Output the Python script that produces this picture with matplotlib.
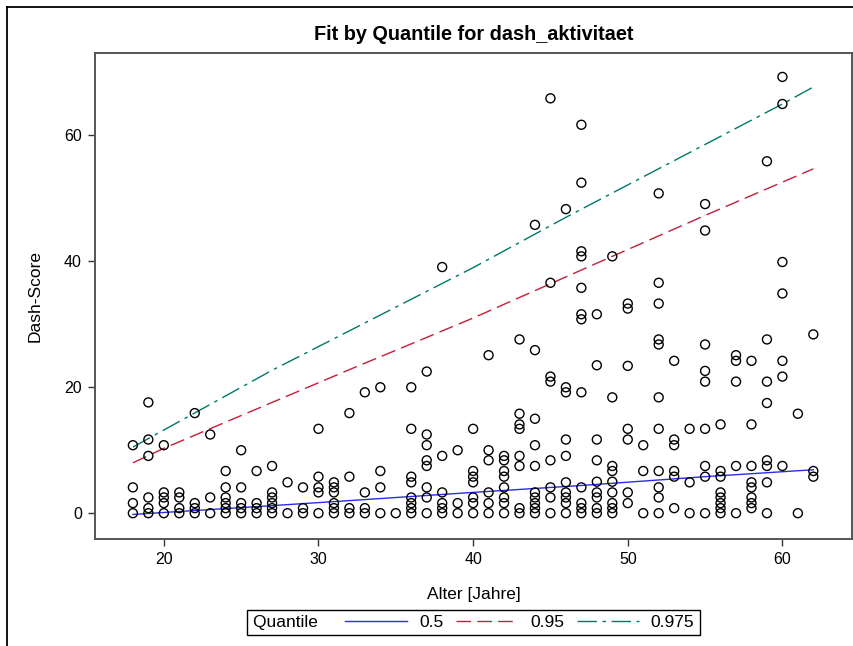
import numpy as np
import matplotlib.pyplot as plt
from matplotlib.lines import Line2D

plt.rcParams['font.family'] = ['Liberation Sans', 'DejaVu Sans']

# Daten
alter = ([18]*4 + [19]*6 + [20]*5 + [21]*4 + [22]*4 + [23]*3 + [24]*6 + [25]*5 + [26]*4 + [27]*6
         + [28]*2 + [29]*3 + [30]*5 + [31]*6 + [32]*4 + [33]*4 + [34]*4 + [35]*1 + [36]*8 + [37]*8
         + [38]*6 + [39]*3 + [40]*7 + [41]*6 + [42]*8 + [43]*8 + [44]*10 + [45]*8 + [46]*10 + [47]*12
         + [48]*9 + [49]*9 + [50]*7 + [51]*3 + [52]*11 + [53]*6 + [54]*3 + [55]*9 + [56]*8 + [57]*5
         + [58]*8 + [59]*8 + [60]*7 + [61]*2 + [62]*3)
dash_score = [
    10.8, 4.1, 1.6, 0,                      # 18
    17.6, 11.7, 9.1, 2.5, 0.8, 0,           # 19
    10.8, 3.3, 2.5, 1.6, 0,                 # 20
    3.3, 2.5, 0.8, 0,                       # 21
    15.9, 1.6, 0.8, 0,                      # 22
    12.5, 2.5, 0,                           # 23
    6.7, 4.1, 2.5, 1.6, 0.8, 0,             # 24
    10.0, 4.1, 1.6, 0.8, 0,                 # 25
    6.7, 1.6, 0.8, 0,                       # 26
    7.5, 3.3, 2.5, 1.6, 0.8, 0,             # 27
    4.9, 0,                                 # 28
    4.1, 0.8, 0,                            # 29
    13.4, 5.8, 4.1, 3.3, 0,                 # 30
    4.9, 4.1, 3.3, 1.6, 0.8, 0,             # 31
    15.9, 5.8, 0.8, 0,                      # 32
    19.2, 3.3, 0.8, 0,                      # 33
    20.0, 6.7, 4.1, 0,                      # 34
    0,                                      # 35
    20.0, 13.4, 5.8, 4.9, 2.5, 1.6, 0.8, 0, # 36
    22.5, 12.5, 10.8, 8.4, 7.5, 4.1, 2.5, 0,  # 37
    39.1, 9.1, 3.3, 1.6, 0.8, 0,            # 38
    10.0, 1.6, 0,                           # 39
    13.4, 6.7, 5.8, 4.9, 2.5, 1.6, 0,       # 40
    25.1, 10.0, 8.4, 3.3, 1.6, 0,           # 41
    9.1, 8.4, 6.7, 5.8, 4.1, 2.5, 1.6, 0,   # 42
    27.6, 15.8, 14.1, 13.4, 9.1, 7.5, 0.8, 0,  # 43
    45.8, 25.9, 15.0, 10.8, 7.5, 3.3, 2.5, 1.6, 0.8, 0,  # 44
    65.9, 36.6, 21.7, 20.9, 8.4, 4.1, 2.5, 0,  # 45
    48.3, 20.0, 19.2, 11.7, 9.1, 4.9, 3.3, 2.5, 1.6, 0,  # 46
    61.7, 52.5, 41.6, 40.8, 35.8, 31.6, 30.8, 19.2, 4.1, 1.6, 0.8, 0,  # 47
    31.6, 23.5, 11.7, 8.4, 5.0, 3.3, 2.5, 0.8, 0,  # 48
    40.8, 18.4, 7.5, 6.7, 5.0, 3.3, 1.6, 0.8, 0,   # 49
    33.3, 32.5, 23.4, 13.4, 11.7, 3.3, 1.6,        # 50
    10.8, 6.7, 0,                                  # 51
    50.8, 36.6, 33.3, 27.6, 26.8, 18.4, 13.4, 6.7, 4.1, 2.5, 0,  # 52
    24.2, 11.7, 10.8, 6.7, 5.8, 0.8,               # 53
    13.4, 4.9, 0,                                  # 54
    49.1, 44.9, 26.8, 22.6, 20.9, 13.4, 7.5, 5.8, 0,  # 55
    14.1, 6.7, 5.8, 3.3, 2.5, 1.6, 0.8, 0,         # 56
    25.1, 24.2, 20.9, 7.5, 0,                      # 57
    24.2, 14.1, 7.5, 4.9, 4.1, 2.5, 1.6, 0.8,      # 58
    55.9, 27.6, 20.9, 17.5, 8.4, 7.5, 4.9, 0,      # 59
    69.3, 65.0, 39.9, 34.9, 24.2, 21.7, 7.5,       # 60
    15.8, 0,                                       # 61
    28.4, 6.7, 5.8,                                # 62
]

# Quantilsregression (Kurvenpunkte)
q05_x = [18, 27, 32, 40, 47, 55, 62]
q05_y = [-0.2, 1.2, 2.0, 3.3, 4.4, 5.8, 6.9]
q95_x = [18, 20, 32, 40, 49, 55, 62]
q95_y = [8.0, 10.3, 22.8, 31.0, 40.8, 47.3, 54.7]
q975_x = [18, 27, 40, 46, 60, 62]
q975_y = [10.5, 22.7, 39.0, 47.0, 65.0, 67.7]

fs = 11.5     # Tick-Beschriftung
fs_lab = 12.5  # Achsentitel / Legende
fig = plt.figure(figsize=(8.54, 6.46), dpi=100)
ax = fig.add_axes([95/854, 1-539/646, (852-95)/854, (539-53)/646])

ax.scatter(alter, dash_score, s=42, facecolors='none', edgecolors='black', linewidths=1.0, zorder=3)
l05, = ax.plot(q05_x, q05_y, color='#2b2bea', lw=1.0, zorder=2)
l95, = ax.plot(q95_x, q95_y, color='#c41e3a', lw=1.0, dashes=(10.5, 4.5), zorder=2)
l975, = ax.plot(q975_x, q975_y, color='#007868', lw=1.0, dashes=(14, 4, 2.5, 4), zorder=2)

ax.set_xlim(15.55, 64.5)
ax.set_ylim(-4.1, 73.1)
ax.set_xticks([20, 30, 40, 50, 60])
ax.set_yticks([0, 20, 40, 60])
ax.tick_params(direction='out', length=5, width=1, color='#333333', labelsize=fs, pad=4.5)
for s in ax.spines.values():
    s.set_linewidth(1.4)
    s.set_color('#555555')

ax.set_title('Fit by Quantile for dash_aktivitaet', fontsize=14.3, fontweight='bold', pad=9)
ax.set_xlabel('Alter [Jahre]', fontsize=fs_lab, labelpad=14)
ax.set_ylabel('Dash-Score', fontsize=fs_lab, labelpad=15)

leg = fig.legend([l05, l95, l975], ['0.5', '0.95', '0.975'], title='Quantile   ', ncol=3,
                 loc='center', bbox_to_anchor=(473.5/854, 1-622.5/646),
                 frameon=True, fancybox=False, edgecolor='black', framealpha=1,
                 handlelength=3.55, fontsize=fs_lab, title_fontsize=fs_lab, borderpad=0.3,
                 columnspacing=0.75, handletextpad=0.7, borderaxespad=0)
leg.get_frame().set_linewidth(1.0)
# Titel links neben die Eintraege setzen
vp = leg.get_children()[0]
title_box = vp.get_children()[0]
hp = vp.get_children()[1]
vp._children = [hp]
hp._children = [title_box] + hp.get_children()

# aeusserer Rahmen
fig.add_artist(Line2D([7.5/854, 1.0], [1-6.5/646, 1-6.5/646], color='black', lw=1.3, transform=fig.transFigure))
fig.add_artist(Line2D([7.5/854, 7.5/854], [0, 1-6.5/646], color='black', lw=1.3, transform=fig.transFigure))

fig.savefig('out.png', dpi=100)
